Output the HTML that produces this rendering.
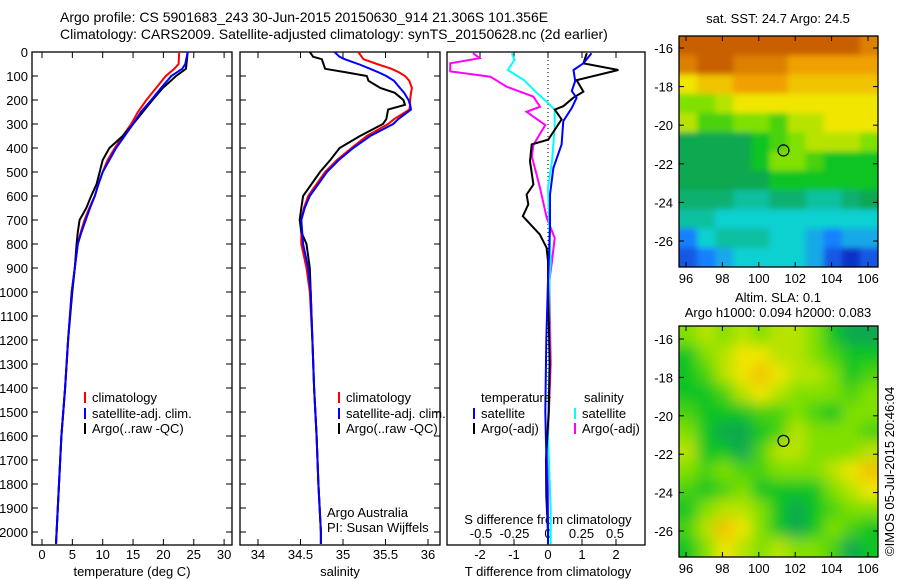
<!DOCTYPE html>
<html><head><meta charset="utf-8">
<style>
html,body{margin:0;padding:0;background:#fff;}
svg{display:block;font-family:"Liberation Sans",sans-serif;}
text{font-size:12px;fill:#000;}
</style></head>
<body>
<svg id="fig" width="900" height="580" viewBox="0 0 900 580" xmlns="http://www.w3.org/2000/svg">
<text x="60" y="22" style="font-size:14px">Argo profile: CS 5901683_243 30-Jun-2015 20150630_914 21.306S 101.356E</text>
<text x="60" y="39" style="font-size:14px">Climatology: CARS2009. Satellite-adjusted climatology: synTS_20150628.nc (2d earlier)</text>
<g id="plots"></g>
</svg>
<script>
// ---------- data ----------
const tDepth   = [0,50,70,100,150,200,250,300,350,400,450,500,550,600,650,700,750,800,900,1000,1200,1400,1600,1800,2000,2050];
const tArgo    = [24.0,23.8,23.7,22.1,19.9,18.2,16.6,15.0,13.3,11.1,10.0,9.5,9.0,8.1,7.3,6.2,5.9,5.7,5.4,5.0,4.3,3.8,3.2,2.8,2.4,2.3];
const tClim    = [22.6,22.5,21.8,20.4,18.8,17.2,15.8,14.7,13.3,12.0,10.8,10.0,9.3,8.7,7.8,7.0,6.4,5.9,5.4,4.9,4.3,3.8,3.2,2.8,2.4,2.3];
const tSat     = [24.0,23.6,23.1,21.3,19.6,18.0,16.3,15.0,13.6,12.2,11.1,10.0,9.3,8.7,7.9,7.2,6.5,5.9,5.4,4.9,4.3,3.8,3.2,2.8,2.4,2.3];
const sDepth   = [0,20,30,50,70,85,100,120,150,170,200,220,240,280,300,350,400,450,500,600,650,700,750,800,900,1000,1200,1400,1600,1800,2000,2050];
const sArgo    = [34.61,34.65,34.75,34.77,34.79,35.04,35.28,35.30,35.44,35.61,35.71,35.73,35.53,35.51,35.47,35.20,34.96,34.85,34.73,34.53,34.51,34.49,34.51,34.57,34.61,34.62,34.64,34.66,34.69,34.71,34.74,34.74];
const sClim    = [35.18,35.22,35.24,35.40,35.57,35.66,35.73,35.78,35.81,35.80,35.79,35.79,35.78,35.60,35.53,35.28,35.10,34.93,34.79,34.59,34.54,34.51,34.51,34.51,34.57,34.61,34.64,34.66,34.69,34.71,34.74,34.74];
const sSat     = [34.90,34.96,35.02,35.18,35.32,35.42,35.51,35.60,35.67,35.72,35.77,35.79,35.80,35.65,35.59,35.32,35.12,34.95,34.81,34.61,34.55,34.51,34.52,34.53,34.59,34.62,34.64,34.66,34.69,34.71,34.74,34.74];
const dtSatDepth = [5,47,75,121,163,191,233,288,385,483,594,733,955,1200,1500,1800,2000,2050];
const dtSat      = [1.28,1.04,0.75,0.8,0.7,0.84,0.7,0.45,0.4,0.16,0.06,0.06,0,-0.05,-0.08,-0.03,0,0];
const dtArgoDepth= [5,47,75,117,165,191,226,240,281,365,385,455,552,594,635,684,760,816,872,955,1300,1500,1700,1850,2000];
const dtArgo     = [1.14,1.04,2.07,0.84,1.04,0.74,0.45,0.2,0.4,0.01,-0.48,-0.53,-0.43,-0.63,-0.58,-0.74,-0.24,-0.04,0,0,0.05,0.02,-0.06,-0.05,0];
const dsSatDepth = [5,33,75,117,172,207,240,316,455,566,733,872,955,1300,1600,1900,2050];
const dsSat      = [-0.27,-0.25,-0.30,-0.18,-0.08,-0.01,0.05,0.05,0.03,0,0.01,0.02,0.01,0.01,0,0.02,0.02];
const dsArgoDepth= [5,26,47,81,103,144,186,228,249,304,388,436,566,691,775,872,955,1300,1600,2000];
const dsArgo     = [-0.56,-0.51,-0.73,-0.73,-0.43,-0.31,-0.11,-0.06,-0.16,-0.02,-0.11,-0.12,-0.06,-0.01,0.05,0.03,0.01,0.02,0,0];
const depthTicks = [0,100,200,300,400,500,600,700,800,900,1000,1100,1200,1300,1400,1500,1600,1700,1800,1900,2000];
const tempTicks  = [0,5,10,15,20,25,30];
const salTicks   = [34,34.5,35,35.5,36];
const salTickLabels = ["34","34.5","35","35.5","36"];
const dtTicks    = [-2,-1,0,1,2];
const dsTicks    = [-0.5,-0.25,0,0.25,0.5];
const dsTickLabels = ["-0.5","-0.25","0","0.25","0.5"];
const lonTicks   = [96,98,100,102,104,106];
const latTicks   = [-16,-18,-20,-22,-24,-26];
const sstGrid = [
 [9,9,9,9,9,9,9,9,9,9,8.5],
 [8.5,9,9,8.5,8.5,8.5,8,8,8,8,8],
 [7,7.5,7.5,8,8,8,7.5,7.5,7.5,7.5,7.5],
 [6,6,6.5,7,7,7,7,7,7,7,7],
 [6.5,5.5,5.5,6,6,5.5,6.5,6.5,7,7,7],
 [4.5,4.5,4.5,4.5,5,5.5,6,6.5,6.5,6.5,6],
 [4.5,4.5,4.5,4.5,5,6,6,5.5,5,5,5],
 [4.5,4.5,4.5,4.5,4.5,5,5,5,5,5,5],
 [4,4,4,3.5,3.5,4,4,3.5,3.5,4,4.5],
 [3.5,3.5,3,3,3,3,3,3,3,3,3],
 [2,3,3.5,3.5,3.5,3,3,2.5,2,2.5,2.5],
 [1.5,2,2.5,3,3,3,3,2.5,1.5,1,1.5]];
const slaGrid = [
 [6,6.5,6,6.5,6,6.5,6.5,6,5,4.5,4.5],
 [5,6,6.5,7,7,6.5,6.5,6,5.5,5,5],
 [5,5.5,6.5,7,7.5,7,6.5,6.5,6,5,5.5],
 [5,5,5.5,6.5,7,6.5,6,6,6,5.5,6],
 [5.5,5,5,5,5.5,5.5,6,5.5,5,6,6],
 [6,5,4.5,4.5,5,5.5,6.5,6,6,6,5.5],
 [6.5,5,5,4.5,5.5,6.5,6.5,6,6,6,6.5],
 [6,5.5,6,5.5,5.5,6,6,6,6.5,7,7.5],
 [5.5,5,5.5,6,5,5,5,5,6,6.5,7],
 [5,6,6.5,6.5,6,5,4.5,5,5.5,6,6],
 [5.5,6.5,7.5,7,6,5,4.5,5,6,5.5,5],
 [5,6,7,6.5,6,6.5,6,6,5.5,4.5,5]];
const argoLon = 101.356, argoLat = -21.306;

// ---------- helpers ----------
const NS="http://www.w3.org/2000/svg";
const root=document.getElementById('plots');
function mk(tag,attrs,parent){const e=document.createElementNS(NS,tag);for(const k in attrs)e.setAttribute(k,attrs[k]);(parent||root).appendChild(e);return e;}
function txt(x,y,s,anchor,size){const e=mk('text',{x:x,y:y,'text-anchor':anchor||'start'});if(size)e.style.fontSize=size+'px';e.textContent=s;return e;}
const yD=d=>52+0.24*d;
const PT=52, PB=545;
function frame(x0,x1,name){const r=mk('rect',{x:x0,y:PT,width:x1-x0,height:PB-PT,fill:'none',stroke:'#000','stroke-width':1.3});

}
function yTicks(x0,x1){depthTicks.forEach(d=>{const y=yD(d);mk('line',{x1:x0,y1:y,x2:x0+6,y2:y,stroke:'#000'});mk('line',{x1:x1,y1:y,x2:x1-6,y2:y,stroke:'#000'});});}
function line(xs,ds,fx,color,w,name){const p=xs.map((v,i)=>fx(v).toFixed(1)+','+yD(ds[i]).toFixed(1)).join(' ');
const e=mk('polyline',{points:p,fill:'none',stroke:color,'stroke-width':w});

}

// ---------- panel 1: temperature ----------
const xT=t=>42+6.07*t;
frame(32,232,'temperature-panel');
yTicks(32,232);
depthTicks.forEach(d=>{const e=txt(28,yD(d)+5,String(d),'end',13);

});
tempTicks.forEach(t=>{mk('line',{x1:xT(t),y1:PB,x2:xT(t),y2:PB-6,stroke:'#000'});mk('line',{x1:xT(t),y1:PT,x2:xT(t),y2:PT+6,stroke:'#000'});
const e=txt(xT(t),559,String(t),'middle',13);

});
{const e=txt(132,576,'temperature (deg C)','middle',13);

}
line(tClim,tDepth,xT,'#ff0000',2,'temp-climatology-line');
line(tArgo,tDepth,xT,'#000000',2,'temp-argo-line');
line(tSat,tDepth,xT,'#0000ff',2,'temp-satellite-line');

// ---------- panel 2: salinity ----------
const xS=s=>258+85*(s-34);
frame(240,440,'salinity-panel');
yTicks(240,440);
salTicks.forEach((s,i)=>{mk('line',{x1:xS(s),y1:PB,x2:xS(s),y2:PB-6,stroke:'#000'});mk('line',{x1:xS(s),y1:PT,x2:xS(s),y2:PT+6,stroke:'#000'});
const e=txt(xS(s),559,salTickLabels[i],'middle',13);

});
{const e=txt(340,576,'salinity','middle',13);

}
line(sClim,sDepth,xS,'#ff0000',2,'sal-climatology-line');
line(sArgo,sDepth,xS,'#000000',2,'sal-argo-line');
line(sSat,sDepth,xS,'#0000ff',2,'sal-satellite-line');

// ---------- panel 3: differences ----------
const xDT=t=>548+34*t, xDS=s=>548+134*s;
frame(447,645,'difference-panel');
mk('line',{x1:548,y1:PT,x2:548,y2:PB,stroke:'#000','stroke-dasharray':'1,3'});
dtTicks.forEach(t=>{mk('line',{x1:xDT(t),y1:PB,x2:xDT(t),y2:PB-6,stroke:'#000'});mk('line',{x1:xDT(t),y1:PT,x2:xDT(t),y2:PT+6,stroke:'#000'});
const e=txt(xDT(t),559,String(t),'middle',13);

});
dsTicks.forEach((s,i)=>{const e=txt(xDS(s),538,dsTickLabels[i],'middle',13);

});
{const e=txt(548,524,'S difference from climatology','middle',13);

}
{const e=txt(548,576,'T difference from climatology','middle',13);

}
line(dsArgo,dsArgoDepth,xDS,'#ff00ff',2,'s-diff-argo-line');
line(dsSat,dsSatDepth,xDS,'#00ffff',2,'s-diff-satellite-line');
line(dtArgo,dtArgoDepth,xDT,'#000000',2,'t-diff-argo-line');
line(dtSat,dtSatDepth,xDT,'#0000ff',2,'t-diff-satellite-line');

// ---------- legends ----------
function legend(x,y,color,label,name){mk('line',{x1:x,y1:y-10,x2:x,y2:y+1,stroke:color,'stroke-width':2});
const e=txt(x+7,y,label,'start',13);

}
legend(85,402,'#ff0000','climatology','legend-climatology');
legend(85,418,'#0000ff','satellite-adj. clim.','legend-satellite-adj');
legend(85,433,'#000000','Argo(..raw -QC)','legend-argo');
legend(339,402,'#ff0000','climatology','legend-sal-climatology');
legend(339,418,'#0000ff','satellite-adj. clim.','legend-sal-satellite-adj');
legend(339,433,'#000000','Argo(..raw -QC)','legend-sal-argo');
{const e=txt(481,402,'temperature','start',13);

}
{const e=txt(584,402,'salinity','start',13);

}
legend(474,418,'#0000ff','satellite','legend-t-satellite');
legend(474,433,'#000000','Argo(-adj)','legend-t-argo');
legend(575,418,'#00ffff','satellite','legend-s-satellite');
legend(575,433,'#ff00ff','Argo(-adj)','legend-s-argo');
{const e=txt(327,517,'Argo Australia','start',13);

}
{const e=txt(327,532,'PI: Susan Wijffels','start',13);

}

// ---------- maps ----------
const cmapStops=[[1,[16,48,200]],[2,[24,128,255]],[3,[16,208,208]],[4,[16,176,112]],[4.5,[16,168,80]],[5,[16,196,32]],[6,[128,224,0]],[7,[240,230,0]],[8,[240,160,0]],[9,[200,96,0]]];
function cmap(v){if(v<=cmapStops[0][0])return 'rgb('+cmapStops[0][1]+')';
for(let i=1;i<cmapStops.length;i++){if(v<=cmapStops[i][0]){const a=cmapStops[i-1],b=cmapStops[i],f=(v-a[0])/(b[0]-a[0]);
return 'rgb('+a[1].map((c,k)=>Math.round(c+(b[1][k]-c)*f)).join(',')+')';}}
return 'rgb('+cmapStops[cmapStops.length-1][1]+')';}
const defs=mk('defs',{});
const flt=mk('filter',{id:'blur',x:'-5%',y:'-5%',width:'110%',height:'110%'},defs);
mk('feGaussianBlur',{stdDeviation:7},flt);
const flt2=mk('filter',{id:'blur2',x:'-5%',y:'-5%',width:'110%',height:'110%'},defs);
mk('feGaussianBlur',{stdDeviation:3},flt2);
function map(top,bottom,lat16,lat26,grid,blurId,name){
 const L=679,R=878;
 const xL=lon=>686+18.2*(lon-96);
 const yL=lat=>lat16+(lat26-lat16)*(lat+16)/(-10);
 const cp=mk('clipPath',{id:'clip'+name},defs);
 mk('rect',{x:L,y:top,width:R-L,height:bottom-top},cp);
 const g=mk('g',{'clip-path':'url(#clip'+name+')'});
 
 
 const inner=mk('g',{filter:'url(#'+blurId+')'},g);
 const nr=grid.length,nc=grid[0].length;
 const cw=(R-L)/nc,ch=(bottom-top)/nr, pad=12;
 grid.forEach((row,r)=>row.forEach((v,c)=>{
  const x0=L+c*cw-(c==0?pad:0), y0=top+r*ch-(r==0?pad:0);
  const w=cw+0.6+(c==0?pad:0)+(c==nc-1?pad:0), h=ch+0.6+(r==0?pad:0)+(r==nr-1?pad:0);
  const cell=mk('rect',{x:x0.toFixed(1),y:y0.toFixed(1),width:w.toFixed(1),height:h.toFixed(1),fill:cmap(v)},inner);
  
  
 }));
 mk('rect',{x:L,y:top,width:R-L,height:bottom-top,fill:'none',stroke:'#000','stroke-width':1.3});
 lonTicks.forEach(lon=>{const x=xL(lon);mk('line',{x1:x,y1:top,x2:x,y2:top+5,stroke:'#000'});mk('line',{x1:x,y1:bottom,x2:x,y2:bottom-5,stroke:'#000'});
  const e=txt(x,bottom+16,String(lon),'middle',13);
  
  });
 latTicks.forEach(lat=>{const y=yL(lat);mk('line',{x1:L,y1:y,x2:L+5,y2:y,stroke:'#000'});mk('line',{x1:R,y1:y,x2:R-5,y2:y,stroke:'#000'});
  const e=txt(L-6,y+5,String(lat),'end',13);
  
  });
 const c=mk('circle',{cx:xL(argoLon),cy:yL(argoLat),r:5.5,fill:'none',stroke:'#000','stroke-width':1.2});
 
 
}
map(36,267,48,241,sstGrid,'blur2','sst-map');
map(326,557,339,531,slaGrid,'blur','sla-map');
{const e=txt(778,23,'sat. SST: 24.7 Argo: 24.5','middle',13);

}
{const e=txt(778,302,'Altim. SLA: 0.1','middle',13);

}
{const e=txt(778,317,'Argo h1000: 0.094 h2000: 0.083','middle',13);

}
{const e=txt(0,0,'©IMOS 05-Jul-2015 20:46:04','start',13);
e.setAttribute('transform','translate(894,556) rotate(-90)');

}
</script>
</body></html>
